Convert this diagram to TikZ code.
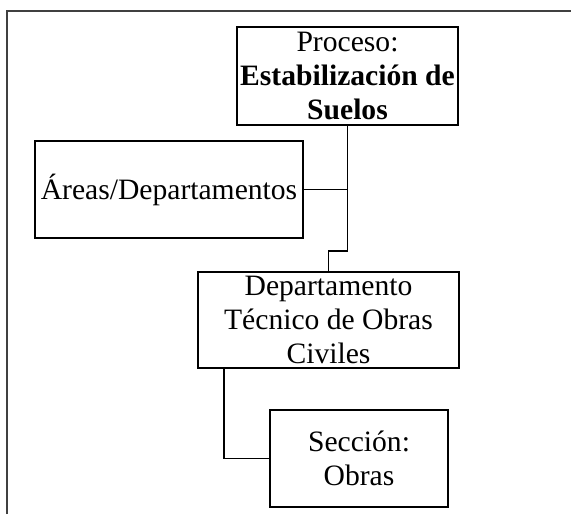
\documentclass[tikz,border=0pt]{standalone}
\usepackage{fontspec}
\setmainfont{Liberation Serif}
\usepackage{tikz}

\begin{document}
\begin{tikzpicture}[x=0.5pt, y=-0.5pt,
  box/.style={draw, line width=0.8pt, align=center, inner sep=0pt,
    font=\fontsize{14.8}{16.8}\selectfont},
  link/.style={line width=0.8pt}]
\useasboundingbox (0,0) rectangle (571,514);
\draw[black!75, line width=0.6pt] (7,514) -- (7,11) -- (571,11);

\node[box, minimum width=110.5pt, minimum height=49pt] (proc) at (347.5,76)
  {Proceso:\\\textbf{Estabilización de}\\\textbf{Suelos}};
\node[box, minimum width=134pt, minimum height=48.5pt] (areas) at (169,189.5)
  {Áreas/Departamentos};
\node[box, minimum width=130.5pt, minimum height=48pt] (depto) at (328.5,320)
  {Departamento\\Técnico de Obras\\Civiles};
\node[box, minimum width=89pt, minimum height=48.5pt] (secc) at (359,458.5)
  {Sección:\\Obras};

\draw[link] (proc.south) -- ++(0,125) -| (depto.north);
\draw[link] (areas.east) -- (areas.east -| proc.south);
\draw[link] ([xshift=13.5pt]depto.south west) |- (secc.west);

\end{tikzpicture}
\end{document}
